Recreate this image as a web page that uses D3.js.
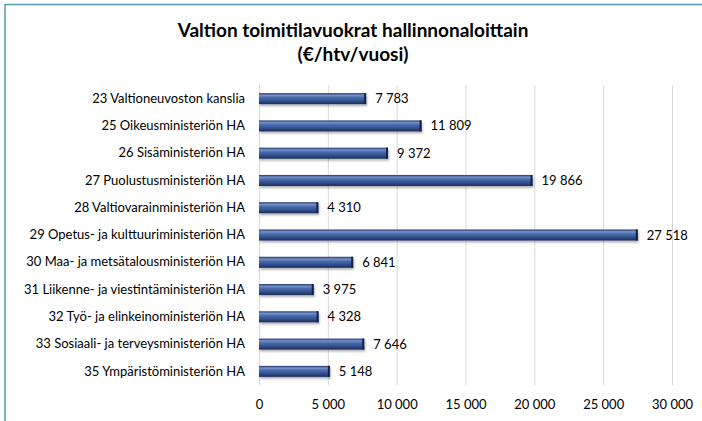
<!DOCTYPE html>
<html><head><meta charset="utf-8">
<script src="https://cdn.jsdelivr.net/npm/d3@7/dist/d3.min.js"></script>
<style>body{margin:0;background:#fff;}svg{display:block;font-family:Lato,"Open Sans",sans-serif;}</style>
</head><body><svg id="c" width="702" height="421"></svg>
<script>
const categories = ["23 Valtioneuvoston kanslia","25 Oikeusministeriön HA","26 Sisäministeriön HA","27 Puolustusministeriön HA","28 Valtiovarainministeriön HA","29 Opetus- ja kulttuuriministeriön HA","30 Maa- ja metsätalousministeriön HA","31 Liikenne- ja viestintäministeriön HA","32 Työ- ja elinkeinoministeriön HA","33 Sosiaali- ja terveysministeriön HA","35 Ympäristöministeriön HA"];
const values = [7783,11809,9372,19866,4310,27518,6841,3975,4328,7646,5148];
const ticks = [0,5000,10000,15000,20000,25000,30000];
const titleLines = ["Valtion toimitilavuokrat hallinnonaloittain","(€/htv/vuosi)"];

const svg = d3.select("#c");
const fmtS = v => String(v).replace(/\B(?=(\d{3})+(?!\d))/g, " ");

// border
svg.append("line").attr("x1",5).attr("x2",702).attr("y1",4.5).attr("y2",4.5).attr("stroke","#4f9bb3").attr("stroke-width",1.5);
svg.append("line").attr("x1",5).attr("x2",5).attr("y1",4).attr("y2",421).attr("stroke","#4f9bb3").attr("stroke-width",1.5);

svg.selectAll("text.title").data(titleLines).enter().append("text")
  .attr("x",353).attr("y",(d,i)=>37+i*24).attr("text-anchor","middle")
  .attr("font-size",19).attr("font-weight","bold").attr("fill","#000").text(d=>d);

const x = d3.scaleLinear().domain([0,30000]).range([259,672]);
const y = d3.scaleBand().domain(categories).range([85,385]).paddingInner(0.6).paddingOuter(0.3);

const defs = svg.append("defs");
const g = defs.append("linearGradient").attr("id","bg").attr("x1",0).attr("x2",0).attr("y1",0).attr("y2",1);
[[0,"#22356a"],[0.2,"#7592cc"],[0.4,"#4a6bab"],[0.75,"#2f4b89"],[1,"#192a55"]].forEach(([o,c])=>g.append("stop").attr("offset",o).attr("stop-color",c));
const sh = defs.append("filter").attr("id","sh").attr("x","-5%").attr("y","-50%").attr("width","110%").attr("height","250%");
sh.append("feGaussianBlur").attr("in","SourceAlpha").attr("stdDeviation",1.2);
sh.append("feOffset").attr("dx",1).attr("dy",2).attr("result","b");
sh.append("feComponentTransfer").append("feFuncA").attr("type","linear").attr("slope",0.3);
const m = sh.append("feMerge"); m.append("feMergeNode"); m.append("feMergeNode").attr("in","SourceGraphic");

// gridlines
svg.append("g").selectAll("line").data(ticks).enter().append("line")
  .attr("x1",d=>x(d)+0.5).attr("x2",d=>x(d)+0.5).attr("y1",85).attr("y2",385)
  .attr("stroke","#d9d9d9").attr("stroke-width",1);

// axis labels
const ax = svg.append("g").attr("transform","translate(0,385)").call(d3.axisBottom(x).tickValues(ticks).tickFormat(fmtS).tickSize(0).tickPadding(15));
ax.select(".domain").remove();
ax.selectAll("text").attr("font-size",13).attr("fill","#000").attr("font-family","Lato,'Open Sans',sans-serif");

// category labels
const ay = svg.append("g").attr("transform","translate(259,0)").call(d3.axisLeft(y).tickSize(0).tickPadding(14));
ay.select(".domain").remove();
ay.selectAll("text").attr("font-size",13).attr("fill","#000").attr("font-family","Lato,'Open Sans',sans-serif");

const bh = 11;
const bars = svg.append("g").selectAll("g").data(categories).enter().append("g");
bars.append("rect").attr("x",x(0)).attr("y",(d)=>y(d)+y.bandwidth()/2-bh/2)
  .attr("width",(d,i)=>x(values[i])-x(0)).attr("height",bh)
  .attr("fill","url(#bg)").attr("filter","url(#sh)");
bars.append("rect").attr("x",(d,i)=>x(values[i])-2).attr("y",(d)=>y(d)+y.bandwidth()/2-bh/2)
  .attr("width",2).attr("height",bh).attr("fill","#14224a");
bars.append("text").attr("x",(d,i)=>x(values[i])+9).attr("y",d=>y(d)+y.bandwidth()/2+4.5)
  .attr("font-size",13).attr("fill","#000").text((d,i)=>fmtS(values[i]));
</script></body></html>
